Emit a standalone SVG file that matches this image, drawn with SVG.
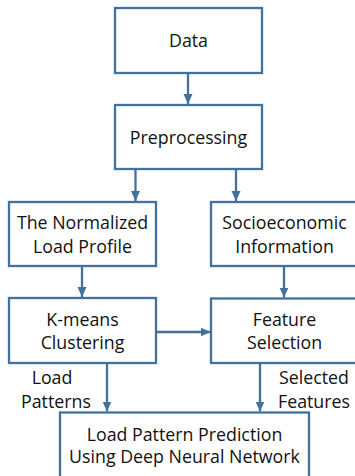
<svg xmlns="http://www.w3.org/2000/svg" width="355" height="476" viewBox="0 0 355 476">
<defs>
<style>
.box{fill:#ffffff;stroke:#41719C;stroke-width:2.3}
.t{font-family:"Open Sans","Liberation Sans",sans-serif;font-size:17.8px;fill:#111111;text-anchor:middle}
.c{stroke:#41719C;stroke-width:2.3;fill:none}
</style>
<marker id="ah" markerUnits="userSpaceOnUse" markerWidth="10" markerHeight="10" viewBox="0 0 10 10" refX="10" refY="5" orient="auto">
<path d="M0,0.5 L10,5 L0,9.5 Z" fill="#41719C"/>
</marker>
</defs>
<rect width="355" height="476" fill="#ffffff"/>
<g id="connectors">
<line class="c" x1="188" y1="73" x2="188" y2="104" marker-end="url(#ah)"/>
<line class="c" x1="135.5" y1="169" x2="135.5" y2="201" marker-end="url(#ah)"/>
<line class="c" x1="236" y1="169" x2="236" y2="201" marker-end="url(#ah)"/>
<line class="c" x1="82" y1="266" x2="82" y2="297" marker-end="url(#ah)"/>
<line class="c" x1="284" y1="266" x2="284" y2="297.5" marker-end="url(#ah)"/>
<line class="c" x1="156" y1="332" x2="210.5" y2="332" marker-end="url(#ah)"/>
<line class="c" x1="107" y1="363" x2="107" y2="411.5" marker-end="url(#ah)"/>
<line class="c" x1="260" y1="363" x2="260" y2="411.5" marker-end="url(#ah)"/>
</g>
<g id="data">
<rect class="box" x="115" y="8" width="147" height="65"/>
<text class="t" x="188.5" y="47">Data</text>
</g>
<g id="preprocessing">
<rect class="box" x="115" y="105" width="147" height="64"/>
<text class="t" x="188.5" y="143.5">Preprocessing</text>
</g>
<g id="normalized">
<rect class="box" x="9" y="202" width="147" height="64"/>
<text class="t" x="82.5" y="229">The Normalized</text>
<text class="t" x="82.5" y="253">Load Profile</text>
</g>
<g id="socio">
<rect class="box" x="211" y="202" width="147" height="64"/>
<text class="t" x="284.5" y="229">Socioeconomic</text>
<text class="t" x="284.5" y="253">Information</text>
</g>
<g id="kmeans">
<rect class="box" x="9" y="298" width="147" height="65"/>
<text class="t" x="82.5" y="325.5">K-means</text>
<text class="t" x="82.5" y="349">Clustering</text>
</g>
<g id="feature">
<rect class="box" x="211" y="298.5" width="147" height="64.5"/>
<text class="t" x="284.5" y="325.5">Feature</text>
<text class="t" x="284.5" y="349">Selection</text>
</g>
<g id="labels">
<text class="t" x="52" y="383.5">Load</text>
<text class="t" x="56" y="407.5">Patterns</text>
<text class="t" x="314" y="383.5">Selected</text>
<text class="t" x="314" y="407.5">Features</text>
</g>
<g id="prediction">
<rect class="box" x="60" y="412.5" width="249" height="66"/>
<text class="t" x="184.5" y="440.5">Load Pattern Prediction</text>
<text class="t" x="184.5" y="462.5">Using Deep Neural Network</text>
</g>
</svg>
